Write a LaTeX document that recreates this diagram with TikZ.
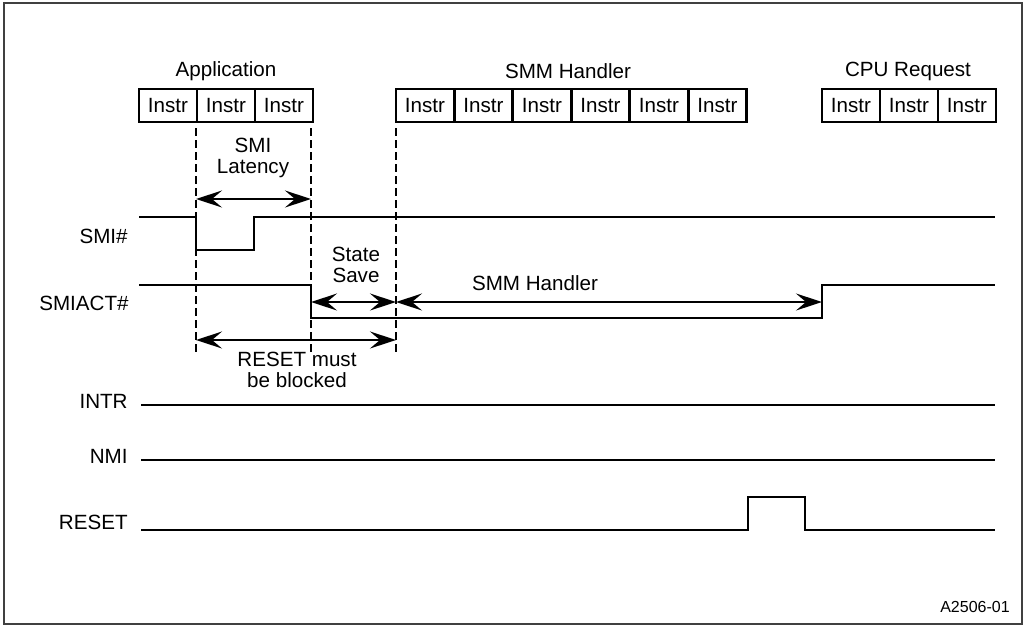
\documentclass[tikz,border=0pt]{standalone}
\usepackage{fontspec}
\setmainfont{Liberation Sans}
\usetikzlibrary{arrows.meta}
\tikzstyle{instr}=[draw, line width=1.1pt, minimum width=29pt, minimum height=16.5pt, inner sep=0pt]
\tikzstyle{title}=[inner sep=0pt]
\tikzstyle{signal}=[line width=1.1pt]
\tikzstyle{marker}=[dash pattern=on 4.2pt off 1.8pt, line width=0.6pt]
\tikzstyle{span}=[line width=1pt, >={Stealth[length=13pt,width=8.5pt,inset=5pt]}, <->]
\tikzstyle{signame}=[anchor=east, inner sep=0pt]
\tikzstyle{note}=[align=center, inner sep=0pt]

\begin{document}
\begin{tikzpicture}[x=0.5pt, y=-0.5pt, font=\fontsize{10.3}{10.5}\selectfont]
\useasboundingbox (0,0) rectangle (1026,627);
\draw[black!75, line width=0.7pt] (4,3) rectangle (1022,624);

\draw (226,71) node[title] (app) {Application};
\foreach \i in {0,1,2} \draw (168+58*\i,105.5) node[instr] (app\i) {Instr};
\draw (568,71) node[title] (smm) {SMM Handler};
\foreach \i in {0,...,5} \draw (425+58.5*\i,105.5) node[instr] (smm\i) {Instr};
\draw (908,71) node[title] (cpu) {CPU Request};
\foreach \i in {0,1,2} \draw (851+58*\i,105.5) node[instr] (cpu\i) {Instr};

\draw[marker] (196,128) -- (196,355);
\draw[marker] (311,128) -- (311,355);
\draw[marker] (396,128) -- (396,355);

\draw (128,236) node[signame] (smi) {SMI\#};
\draw[signal] (139,217) -- (196,217) -- (196,250) -- (254,250) -- (254,217) -- (995,217);
\draw (129,303) node[signame] (smiact) {SMIACT\#};
\draw[signal] (139,285) -- (311,285) -- (311,318) -- (822,318) -- (822,285) -- (995,285);
\draw (128,401) node[signame] (intr) {INTR};
\draw[signal] (141,405) -- (995,405);
\draw (128,456) node[signame] (nmi) {NMI};
\draw[signal] (141,460) -- (995,460);
\draw (128,522) node[signame] (reset) {RESET};
\draw[signal] (141,530) -- (748,530) -- (748,497) -- (805,497) -- (805,530) -- (995,530);

\coordinate (lat-a) at (196,199);
\coordinate (lat-b) at (311,199);
\coordinate (save-a) at (311,302);
\coordinate (save-b) at (396,302);
\coordinate (hdl-b) at (822,302);
\coordinate (blk-a) at (196,340);
\coordinate (blk-b) at (396,340);
\draw[span] (lat-a) -- (lat-b);
\draw[span] (save-a) -- (save-b);
\draw[span] (save-b) -- (hdl-b);
\draw[span] (blk-a) -- (blk-b);

\draw (253,157.5) node[note] (lat) {SMI\\Latency};
\draw (356,264.5) node[note] (save) {State\\Save};
\draw (535,283) node[note] (hdl) {SMM Handler};
\draw (297,369.5) node[note] (blk) {RESET must\\be blocked};

\draw (975,607) node[font=\fontsize{8}{9}\selectfont] (id) {A2506-01};
\end{tikzpicture}
\end{document}
